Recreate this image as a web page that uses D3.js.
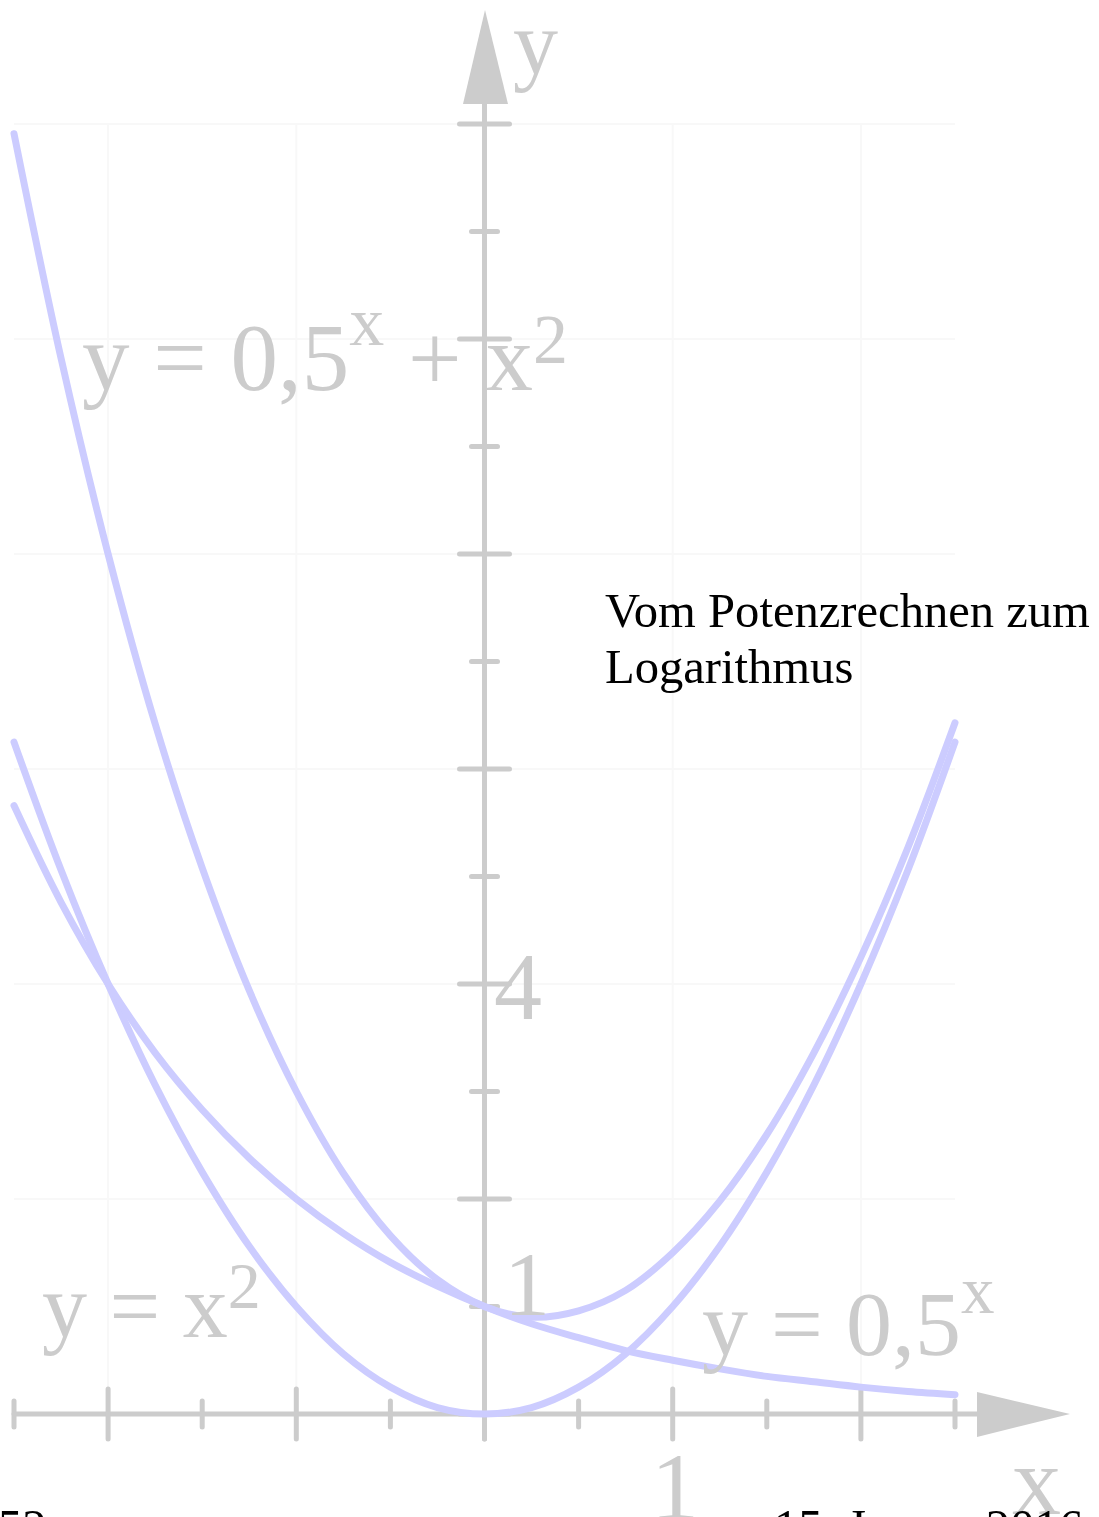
<!DOCTYPE html>
<html>
<head>
<meta charset="utf-8">
<script src="https://cdn.jsdelivr.net/npm/d3@7"></script>
<style>
  html, body { margin: 0; padding: 0; background: #fff; overflow: hidden; }
  svg { display: block; }
  text { font-family: 'Liberation Serif', 'Times New Roman', serif; }
</style>
</head>
<body>
<svg id="chart"></svg>
<script>
// sample points along x
var xs      = [-2.5, -2.25, -2, -1.75, -1.5, -1.25, -1, -0.75, -0.5, -0.25, 0, 0.25, 0.5, 0.75, 1, 1.25, 1.5, 1.75, 2, 2.25, 2.5];
var square  = [6.25, 5.06, 4, 3.06, 2.25, 1.56, 1, 0.56, 0.25, 0.06, 0, 0.06, 0.25, 0.56, 1, 1.56, 2.25, 3.06, 4, 5.06, 6.25];
var expHalf = [5.66, 4.76, 4, 3.36, 2.83, 2.38, 2, 1.68, 1.41, 1.19, 1, 0.84, 0.71, 0.59, 0.5, 0.42, 0.35, 0.30, 0.25, 0.21, 0.18];
var sumCurve = [11.91, 9.82, 8, 6.42, 5.08, 3.94, 3, 2.24, 1.66, 1.25, 1, 0.90, 0.96, 1.15, 1.5, 1.98, 2.60, 3.36, 4.25, 5.27, 6.43];

var xTicks = [-2.5, -2, -1.5, -1, -0.5, 0, 0.5, 1, 1.5, 2, 2.5];
var yTicks = [0, 1, 2, 3, 4, 5, 6, 7, 8, 9, 10, 11, 12];
var xGrid = [-2, -1, 1, 2];
var yGrid = [2, 4, 6, 8, 10, 12];

var W = 1099, H = 1517;
var axisColor = '#cccccc';
var curveColor = '#ccccff';

var svg = d3.select('#chart').attr('width', W).attr('height', H);

var x = d3.scaleLinear().domain([-2.5, 2.5]).range([14, 955]);
var y = d3.scaleLinear().domain([0, 12]).range([1414, 124]);

// faint grid
svg.append('g').selectAll('line').data(xGrid).enter().append('line')
  .attr('x1', function (d) { return x(d); }).attr('x2', function (d) { return x(d); })
  .attr('y1', y(0)).attr('y2', y(12))
  .attr('stroke', '#f8f8f8').attr('stroke-width', 2);
svg.append('g').selectAll('line').data(yGrid).enter().append('line')
  .attr('x1', x(-2.5)).attr('x2', x(2.5))
  .attr('y1', function (d) { return y(d); }).attr('y2', function (d) { return y(d); })
  .attr('stroke', '#f8f8f8').attr('stroke-width', 2);

// axes
var ax = svg.append('g').attr('stroke', axisColor).attr('stroke-linecap', 'round');
ax.append('line').attr('x1', x(-2.5)).attr('x2', 985).attr('y1', y(0)).attr('y2', y(0)).attr('stroke-width', 5);
ax.append('line').attr('x1', x(0)).attr('x2', x(0)).attr('y1', y(0) + 25).attr('y2', 95).attr('stroke-width', 5);

ax.selectAll('.xt').data(xTicks).enter().append('line').attr('class', 'xt')
  .attr('x1', function (d) { return x(d); }).attr('x2', function (d) { return x(d); })
  .attr('y1', function (d) { return y(0) - (d % 1 === 0 ? 25 : 13); })
  .attr('y2', function (d) { return y(0) + (d % 1 === 0 ? 25 : 13); })
  .attr('stroke-width', 5);
ax.selectAll('.yt').data(yTicks).enter().append('line').attr('class', 'yt')
  .attr('y1', function (d) { return y(d); }).attr('y2', function (d) { return y(d); })
  .attr('x1', function (d) { return x(0) - (d % 2 === 0 ? 25 : 13); })
  .attr('x2', function (d) { return x(0) + (d % 2 === 0 ? 25 : 13); })
  .attr('stroke-width', 5);

// arrow heads
svg.append('path').attr('fill', axisColor)
  .attr('d', 'M977,1392 L1070,1414 L977,1437 Z');
svg.append('path').attr('fill', axisColor)
  .attr('d', 'M463,104 L485,10 L508,104 Z');

// curves
var line = d3.line()
  .x(function (d) { return x(d[0]); })
  .y(function (d) { return y(d[1]); })
  .curve(d3.curveCatmullRom);

[square, expHalf, sumCurve].forEach(function (vals) {
  svg.append('path')
    .datum(xs.map(function (v, i) { return [v, vals[i]]; }))
    .attr('d', line)
    .attr('fill', 'none')
    .attr('stroke', curveColor)
    .attr('stroke-width', 7)
    .attr('stroke-linecap', 'round')
    .attr('stroke-linejoin', 'round');
});

// gray labels
var gray = svg.append('g').attr('fill', axisColor);
gray.append('text').attr('x', 513).attr('y', 74).attr('font-size', 90).text('y');
gray.append('text').attr('x', 1012).attr('y', 1514).attr('font-size', 98).text('x');
gray.append('text').attr('x', 651).attr('y', 1519).attr('font-size', 96).text('1');
gray.append('text').attr('x', 494).attr('y', 1019).attr('font-size', 96).text('4');
gray.append('text').attr('x', 504).attr('y', 1315).attr('font-size', 92).text('1');

var t1 = gray.append('text').attr('x', 82).attr('y', 390).attr('font-size', 95).attr('xml:space', 'preserve');
t1.append('tspan').text('y = 0,5');
t1.append('tspan').attr('font-size', 70).attr('dy', -45).text('x');
t1.append('tspan').attr('dy', 45).text(' + x');
t1.append('tspan').attr('font-size', 70).attr('dy', -27).text('2');

var t2 = gray.append('text').attr('x', 42).attr('y', 1337).attr('font-size', 90);
t2.append('tspan').text('y = x');
t2.append('tspan').attr('font-size', 66).attr('dy', -29).text('2');

var t3 = gray.append('text').attr('x', 702).attr('y', 1355).attr('font-size', 92);
t3.append('tspan').text('y = 0,5');
t3.append('tspan').attr('font-size', 67).attr('dy', -42).text('x');

// black slide text
var blk = svg.append('g').attr('fill', '#000').attr('font-size', 48.6);
blk.append('text').attr('x', 605).attr('y', 627).text('Vom Potenzrechnen zum');
blk.append('text').attr('x', 605).attr('y', 683).text('Logarithmus');
blk.append('text').attr('x', -2).attr('y', 1543).text('52');
blk.append('text').attr('x', 774).attr('y', 1543).text('15. Januar 2016');
</script>
</body>
</html>
